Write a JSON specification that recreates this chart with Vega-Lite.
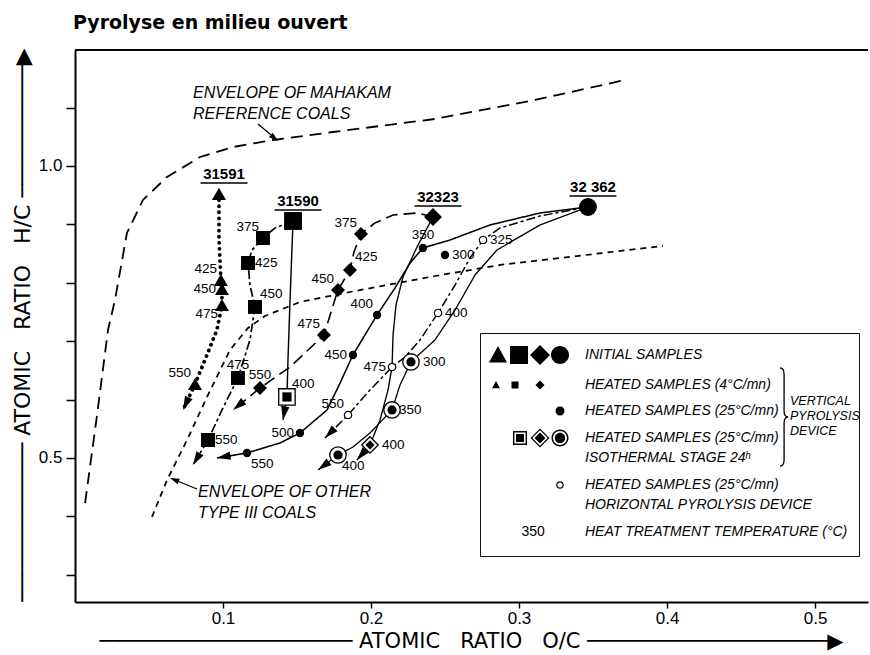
{
  "$schema": "https://vega.github.io/schema/vega-lite/v6.json",
  "width": 793,
  "height": 552,
  "autosize": {"type": "none"},
  "padding": {"left": 75, "top": 50, "right": 2, "bottom": 53},
  "background": "white",
  "title": {"text": "Pyrolyse en milieu ouvert", "anchor": "start", "frame": "group", "font": "DejaVu Sans", "fontSize": 19, "fontWeight": "bold", "color": "black", "offset": 0, "baseline": "alphabetic", "dx": -2},
  "config": {
    "view": {"stroke": null},
    "style": {"guide-label": {"lineHeight": 20}},
    "axis": {"domainColor": "black", "domainWidth": 2, "tickColor": "black", "tickWidth": 1.5, "labelColor": "black", "labelFont": "Liberation Sans", "labelFontSize": 17, "grid": false, "titleFont": "DejaVu Sans", "titleFontSize": 22, "titleFontWeight": "normal", "titleColor": "black"},
    "axisX": {"tickSize": 6, "labelPadding": 2},
    "axisY": {"tickSize": 9, "labelPadding": 4}
  },
  "datasets": {
    "pts": [
      {"sample": "31591", "kind": "initial", "T": null, "x": 0.0973, "y": 0.9521},
      {"sample": "31590", "kind": "initial", "T": null, "x": 0.1473, "y": 0.9058},
      {"sample": "32323", "kind": "initial", "T": null, "x": 0.2419, "y": 0.9127},
      {"sample": "32 362", "kind": "initial", "T": null, "x": 0.3466, "y": 0.9298},
      {"sample": "31591", "kind": "h4", "T": 425, "x": 0.0986, "y": 0.8048},
      {"sample": "31591", "kind": "h4", "T": 450, "x": 0.0993, "y": 0.7894},
      {"sample": "31591", "kind": "h4", "T": 475, "x": 0.0993, "y": 0.762},
      {"sample": "31591", "kind": "h4", "T": 550, "x": 0.0811, "y": 0.6267},
      {"sample": "31590", "kind": "h4", "T": 375, "x": 0.127, "y": 0.8767},
      {"sample": "31590", "kind": "h4", "T": 425, "x": 0.1169, "y": 0.8339},
      {"sample": "31590", "kind": "h4", "T": 450, "x": 0.1216, "y": 0.7586},
      {"sample": "31590", "kind": "h4", "T": 475, "x": 0.1101, "y": 0.637},
      {"sample": "31590", "kind": "h4", "T": 550, "x": 0.0899, "y": 0.5308},
      {"sample": "32323", "kind": "h4", "T": 375, "x": 0.1932, "y": 0.8836},
      {"sample": "32323", "kind": "h4", "T": 425, "x": 0.1858, "y": 0.8219},
      {"sample": "32323", "kind": "h4", "T": 450, "x": 0.1777, "y": 0.7877},
      {"sample": "32323", "kind": "h4", "T": 475, "x": 0.1682, "y": 0.7106},
      {"sample": "32323", "kind": "h4", "T": 550, "x": 0.125, "y": 0.6199},
      {"sample": "32 362", "kind": "h25", "T": 300, "x": 0.25, "y": 0.8476},
      {"sample": "32 362", "kind": "h25", "T": 350, "x": 0.2351, "y": 0.8596},
      {"sample": "32 362", "kind": "h25", "T": 400, "x": 0.2041, "y": 0.7449},
      {"sample": "32 362", "kind": "h25", "T": 450, "x": 0.1878, "y": 0.6764},
      {"sample": "32 362", "kind": "h25", "T": 500, "x": 0.152, "y": 0.5428},
      {"sample": "32 362", "kind": "h25", "T": 550, "x": 0.1162, "y": 0.5086},
      {"sample": "31590", "kind": "iso", "T": 400, "x": 0.1432, "y": 0.6045},
      {"sample": "32323", "kind": "iso", "T": 400, "x": 0.1993, "y": 0.5223},
      {"sample": "32 362", "kind": "iso", "T": 300, "x": 0.227, "y": 0.6644},
      {"sample": "32 362", "kind": "iso", "T": 350, "x": 0.2142, "y": 0.5822},
      {"sample": "32 362", "kind": "iso", "T": 400, "x": 0.1777, "y": 0.5051},
      {"sample": "32 362", "kind": "horiz", "T": 325, "x": 0.2757, "y": 0.8733},
      {"sample": "32 362", "kind": "horiz", "T": 400, "x": 0.2453, "y": 0.7483},
      {"sample": "32 362", "kind": "horiz", "T": 475, "x": 0.2142, "y": 0.6558},
      {"sample": "32 362", "kind": "horiz", "T": 550, "x": 0.1845, "y": 0.5736}
    ],
    "paths": [
      {"series": "env_mahakam", "o": 0, "x": 0.0068, "y": 0.4229},
      {"series": "env_mahakam", "o": 1, "x": 0.0149, "y": 0.5736},
      {"series": "env_mahakam", "o": 2, "x": 0.0223, "y": 0.7192},
      {"series": "env_mahakam", "o": 3, "x": 0.027, "y": 0.7705},
      {"series": "env_mahakam", "o": 4, "x": 0.0351, "y": 0.8853},
      {"series": "env_mahakam", "o": 5, "x": 0.0459, "y": 0.9418},
      {"series": "env_mahakam", "o": 6, "x": 0.0622, "y": 0.9812},
      {"series": "env_mahakam", "o": 7, "x": 0.0845, "y": 1.0154},
      {"series": "env_mahakam", "o": 8, "x": 0.1068, "y": 1.0325},
      {"series": "env_mahakam", "o": 9, "x": 0.1338, "y": 1.0445},
      {"series": "env_mahakam", "o": 10, "x": 0.1743, "y": 1.0582},
      {"series": "env_mahakam", "o": 11, "x": 0.2432, "y": 1.0805},
      {"series": "env_mahakam", "o": 12, "x": 0.3108, "y": 1.113},
      {"series": "env_mahakam", "o": 13, "x": 0.3716, "y": 1.1473},
      {"series": "env_other", "o": 0, "x": 0.052, "y": 0.399},
      {"series": "env_other", "o": 1, "x": 0.0622, "y": 0.4623},
      {"series": "env_other", "o": 2, "x": 0.0757, "y": 0.5308},
      {"series": "env_other", "o": 3, "x": 0.0892, "y": 0.6045},
      {"series": "env_other", "o": 4, "x": 0.1047, "y": 0.6849},
      {"series": "env_other", "o": 5, "x": 0.1169, "y": 0.7226},
      {"series": "env_other", "o": 6, "x": 0.1284, "y": 0.7432},
      {"series": "env_other", "o": 7, "x": 0.152, "y": 0.7671},
      {"series": "env_other", "o": 8, "x": 0.1858, "y": 0.7842},
      {"series": "env_other", "o": 9, "x": 0.2432, "y": 0.8116},
      {"series": "env_other", "o": 10, "x": 0.2872, "y": 0.8305},
      {"series": "env_other", "o": 11, "x": 0.3973, "y": 0.863},
      {"series": "31591_h4", "o": 0, "x": 0.0973, "y": 0.9521},
      {"series": "31591_h4", "o": 1, "x": 0.0973, "y": 0.8733},
      {"series": "31591_h4", "o": 2, "x": 0.0986, "y": 0.8048},
      {"series": "31591_h4", "o": 3, "x": 0.0993, "y": 0.7894},
      {"series": "31591_h4", "o": 4, "x": 0.0993, "y": 0.762},
      {"series": "31591_h4", "o": 5, "x": 0.0959, "y": 0.7192},
      {"series": "31591_h4", "o": 6, "x": 0.0878, "y": 0.6678},
      {"series": "31591_h4", "o": 7, "x": 0.0811, "y": 0.6267},
      {"series": "31591_h4", "o": 8, "x": 0.073, "y": 0.5822},
      {"series": "31590_h4", "o": 0, "x": 0.1473, "y": 0.9058},
      {"series": "31590_h4", "o": 1, "x": 0.1351, "y": 0.8938},
      {"series": "31590_h4", "o": 2, "x": 0.127, "y": 0.8767},
      {"series": "31590_h4", "o": 3, "x": 0.1196, "y": 0.8562},
      {"series": "31590_h4", "o": 4, "x": 0.1169, "y": 0.8339},
      {"series": "31590_h4", "o": 5, "x": 0.1182, "y": 0.7962},
      {"series": "31590_h4", "o": 6, "x": 0.1216, "y": 0.7586},
      {"series": "31590_h4", "o": 7, "x": 0.1182, "y": 0.7021},
      {"series": "31590_h4", "o": 8, "x": 0.1101, "y": 0.637},
      {"series": "31590_h4", "o": 9, "x": 0.0993, "y": 0.5822},
      {"series": "31590_h4", "o": 10, "x": 0.0899, "y": 0.5308},
      {"series": "31590_h4", "o": 11, "x": 0.0797, "y": 0.488},
      {"series": "31590_iso", "o": 0, "x": 0.1473, "y": 0.9058},
      {"series": "31590_iso", "o": 1, "x": 0.1453, "y": 0.7705},
      {"series": "31590_iso", "o": 2, "x": 0.1439, "y": 0.6678},
      {"series": "31590_iso", "o": 3, "x": 0.1432, "y": 0.6045},
      {"series": "31590_iso", "o": 4, "x": 0.1405, "y": 0.5651},
      {"series": "32323_h4", "o": 0, "x": 0.2419, "y": 0.9127},
      {"series": "32323_h4", "o": 1, "x": 0.2311, "y": 0.9195},
      {"series": "32323_h4", "o": 2, "x": 0.2149, "y": 0.9161},
      {"series": "32323_h4", "o": 3, "x": 0.2027, "y": 0.9024},
      {"series": "32323_h4", "o": 4, "x": 0.1932, "y": 0.8836},
      {"series": "32323_h4", "o": 5, "x": 0.1885, "y": 0.8527},
      {"series": "32323_h4", "o": 6, "x": 0.1858, "y": 0.8219},
      {"series": "32323_h4", "o": 7, "x": 0.1777, "y": 0.7877},
      {"series": "32323_h4", "o": 8, "x": 0.173, "y": 0.75},
      {"series": "32323_h4", "o": 9, "x": 0.1682, "y": 0.7106},
      {"series": "32323_h4", "o": 10, "x": 0.1453, "y": 0.6558},
      {"series": "32323_h4", "o": 11, "x": 0.125, "y": 0.6199},
      {"series": "32323_h4", "o": 12, "x": 0.1068, "y": 0.5822},
      {"series": "32323_iso", "o": 0, "x": 0.2419, "y": 0.9127},
      {"series": "32323_iso", "o": 1, "x": 0.2311, "y": 0.8613},
      {"series": "32323_iso", "o": 2, "x": 0.2216, "y": 0.8099},
      {"series": "32323_iso", "o": 3, "x": 0.2169, "y": 0.762},
      {"series": "32323_iso", "o": 4, "x": 0.2149, "y": 0.7106},
      {"series": "32323_iso", "o": 5, "x": 0.2142, "y": 0.6558},
      {"series": "32323_iso", "o": 6, "x": 0.2115, "y": 0.6164},
      {"series": "32323_iso", "o": 7, "x": 0.2061, "y": 0.5651},
      {"series": "32323_iso", "o": 8, "x": 0.1993, "y": 0.5223},
      {"series": "32323_iso", "o": 9, "x": 0.1905, "y": 0.4966},
      {"series": "32362_h25", "o": 0, "x": 0.3466, "y": 0.9298},
      {"series": "32362_h25", "o": 1, "x": 0.3142, "y": 0.9195},
      {"series": "32362_h25", "o": 2, "x": 0.2804, "y": 0.899},
      {"series": "32362_h25", "o": 3, "x": 0.2534, "y": 0.8733},
      {"series": "32362_h25", "o": 4, "x": 0.2351, "y": 0.8596},
      {"series": "32362_h25", "o": 5, "x": 0.2264, "y": 0.8339},
      {"series": "32362_h25", "o": 6, "x": 0.2162, "y": 0.7911},
      {"series": "32362_h25", "o": 7, "x": 0.2041, "y": 0.7449},
      {"series": "32362_h25", "o": 8, "x": 0.1959, "y": 0.7106},
      {"series": "32362_h25", "o": 9, "x": 0.1878, "y": 0.6764},
      {"series": "32362_h25", "o": 10, "x": 0.1791, "y": 0.6284},
      {"series": "32362_h25", "o": 11, "x": 0.1703, "y": 0.5822},
      {"series": "32362_h25", "o": 12, "x": 0.152, "y": 0.5428},
      {"series": "32362_h25", "o": 13, "x": 0.1385, "y": 0.5257},
      {"series": "32362_h25", "o": 14, "x": 0.1162, "y": 0.5086},
      {"series": "32362_h25", "o": 15, "x": 0.0959, "y": 0.5},
      {"series": "32362_horiz", "o": 0, "x": 0.3466, "y": 0.9298},
      {"series": "32362_horiz", "o": 1, "x": 0.3142, "y": 0.9144},
      {"series": "32362_horiz", "o": 2, "x": 0.2872, "y": 0.8938},
      {"series": "32362_horiz", "o": 3, "x": 0.2757, "y": 0.8733},
      {"series": "32362_horiz", "o": 4, "x": 0.2669, "y": 0.8425},
      {"series": "32362_horiz", "o": 5, "x": 0.2568, "y": 0.7962},
      {"series": "32362_horiz", "o": 6, "x": 0.2453, "y": 0.7483},
      {"series": "32362_horiz", "o": 7, "x": 0.2331, "y": 0.7021},
      {"series": "32362_horiz", "o": 8, "x": 0.223, "y": 0.6729},
      {"series": "32362_horiz", "o": 9, "x": 0.2142, "y": 0.6558},
      {"series": "32362_horiz", "o": 10, "x": 0.1993, "y": 0.6164},
      {"series": "32362_horiz", "o": 11, "x": 0.1845, "y": 0.5736},
      {"series": "32362_horiz", "o": 12, "x": 0.1689, "y": 0.5342},
      {"series": "32362_iso", "o": 0, "x": 0.3466, "y": 0.9298},
      {"series": "32362_iso", "o": 1, "x": 0.3142, "y": 0.899},
      {"series": "32362_iso", "o": 2, "x": 0.2851, "y": 0.8562},
      {"series": "32362_iso", "o": 3, "x": 0.2703, "y": 0.8134},
      {"series": "32362_iso", "o": 4, "x": 0.2568, "y": 0.7534},
      {"series": "32362_iso", "o": 5, "x": 0.2432, "y": 0.7021},
      {"series": "32362_iso", "o": 6, "x": 0.227, "y": 0.6644},
      {"series": "32362_iso", "o": 7, "x": 0.2196, "y": 0.625},
      {"series": "32362_iso", "o": 8, "x": 0.2142, "y": 0.5822},
      {"series": "32362_iso", "o": 9, "x": 0.1993, "y": 0.5428},
      {"series": "32362_iso", "o": 10, "x": 0.1878, "y": 0.5188},
      {"series": "32362_iso", "o": 11, "x": 0.1777, "y": 0.5051},
      {"series": "32362_iso", "o": 12, "x": 0.1642, "y": 0.4795}
    ],
    "legendItems": [{"entry": "initial"}, {"entry": "h4"}, {"entry": "h25"}, {"entry": "iso"}, {"entry": "horiz"}, {"entry": "temp"}]
  },
  "layer": [
    {
      "data": {"name": "paths"},
      "transform": [{"filter": "datum.series != '31591_h4'"}],
      "mark": {"type": "line", "color": "black", "strokeCap": "butt"},
      "encoding": {
        "x": {"field": "x", "type": "quantitative", "scale": {"domain": [0, 0.5358], "nice": false, "zero": false},
          "axis": {"values": [0.1, 0.2, 0.3, 0.4, 0.5], "format": ".1f", "title": "──────────────────── ATOMIC\u00a0\u00a0\u00a0RATIO\u00a0\u00a0\u00a0O/C ───────────────────▶", "titleX": 396, "titleY": 39, "titleFontSize": 21, "titleAlign": "center", "titleBaseline": "middle", "titleAngle": 0}},
        "y": {"field": "y", "type": "quantitative", "scale": {"domain": [0.2534, 1.1986], "nice": false, "zero": false},
          "axis": {"values": [0.3, 0.4, 0.5, 0.6, 0.7, 0.8, 0.9, 1.0, 1.1], "labelExpr": "datum.value == 0.5 || datum.value == 1 ? format(datum.value, '.1f') : ''", "title": "──────────── ATOMIC\u00a0\u00a0\u00a0RATIO\u00a0\u00a0\u00a0H/C ──────────▶", "titleX": -52.5, "titleY": 274.5, "titleAlign": "center", "titleBaseline": "middle", "titleAngle": -90}},
        "order": {"field": "o", "type": "quantitative"},
        "strokeDash": {"field": "series", "type": "nominal", "legend": null, "scale": {"domain": ["env_mahakam", "env_other", "31590_h4", "32323_h4", "32362_h25", "32362_horiz", "31590_iso", "32323_iso", "32362_iso"], "range": [[12, 7], [6, 5], [9, 3, 3, 3], [12, 6], [1, 0], [9, 3, 3, 3], [1, 0], [1, 0], [1, 0]]}},
        "strokeWidth": {"field": "series", "type": "nominal", "legend": null, "scale": {"domain": ["env_mahakam", "env_other", "31590_h4", "32323_h4", "32362_h25", "32362_horiz", "31590_iso", "32323_iso", "32362_iso"], "range": [1.8, 1.3, 4.5, 4.5, 4, 3.8, 1.4, 1.4, 1.4]}}
      }
    },
    {
      "data": {"name": "paths"},
      "transform": [{"filter": "datum.series == '31591_h4'"}],
      "mark": {"type": "line", "color": "black", "strokeCap": "round", "strokeDash": [0.1, 6], "strokeWidth": 3.8},
      "encoding": {
        "x": {"field": "x", "type": "quantitative", "scale": {"domain": [0, 0.5358], "nice": false, "zero": false}},
        "y": {"field": "y", "type": "quantitative", "scale": {"domain": [0.2534, 1.1986], "nice": false, "zero": false}},
        "order": {"field": "o", "type": "quantitative"}
      }
    },
    {
      "data": {"name": "paths"},
      "transform": [
        {"filter": "datum.series != 'env_mahakam' && datum.series != 'env_other'"},
        {"window": [{"op": "lag", "field": "x", "as": "px"}, {"op": "lag", "field": "y", "as": "py"}, {"op": "lead", "field": "x", "as": "nx"}], "groupby": ["series"], "sort": [{"field": "o", "order": "ascending"}]},
        {"filter": "datum.nx == null"},
        {"calculate": "atan2((datum.x - datum.px) * 1480, (datum.y - datum.py) * 584) * 180 / PI", "as": "ang"}
      ],
      "mark": {"type": "point", "shape": "M0,0L0.55,1.8L-0.55,1.8Z", "filled": true, "color": "black", "size": 230, "opacity": 1},
      "encoding": {
        "x": {"field": "x", "type": "quantitative", "scale": {"domain": [0, 0.5358], "nice": false, "zero": false}},
        "y": {"field": "y", "type": "quantitative", "scale": {"domain": [0.2534, 1.1986], "nice": false, "zero": false}},
        "angle": {"field": "ang", "type": "quantitative", "scale": null}
      }
    },
    {
      "data": {"name": "pts"},
      "transform": [{"filter": "datum.kind == 'initial' || datum.kind == 'h4' || datum.kind == 'h25'"}],
      "mark": {"type": "point", "filled": true, "color": "black", "opacity": 1},
      "encoding": {
        "x": {"field": "x", "type": "quantitative", "scale": {"domain": [0, 0.5358], "nice": false, "zero": false}},
        "y": {"field": "y", "type": "quantitative", "scale": {"domain": [0.2534, 1.1986], "nice": false, "zero": false}},
        "shape": {"field": "sample", "type": "nominal", "legend": null, "scale": {"domain": ["31591", "31590", "32323", "32 362"], "range": ["triangle-up", "square", "diamond", "circle"]}},
        "size": {"condition": {"test": "datum.kind == 'initial' && datum.sample == '31591'", "value": 200}, "field": "kind", "type": "nominal", "legend": null, "scale": {"domain": ["initial", "h4", "h25"], "range": [320, 70, 90]}}
      }
    },
    {
      "data": {"name": "pts"},
      "transform": [{"filter": "datum.kind == 'iso'"}],
      "mark": {"type": "point", "filled": true, "fill": "white", "stroke": "black", "strokeWidth": 1.3, "size": 270, "opacity": 1},
      "encoding": {
        "x": {"field": "x", "type": "quantitative", "scale": {"domain": [0, 0.5358], "nice": false, "zero": false}},
        "y": {"field": "y", "type": "quantitative", "scale": {"domain": [0.2534, 1.1986], "nice": false, "zero": false}},
        "shape": {"field": "sample", "type": "nominal", "legend": null, "scale": {"domain": ["31591", "31590", "32323", "32 362"], "range": ["triangle-up", "square", "diamond", "circle"]}}
      }
    },
    {
      "data": {"name": "pts"},
      "transform": [{"filter": "datum.kind == 'iso'"}],
      "mark": {"type": "point", "filled": true, "color": "black", "size": 85, "opacity": 1},
      "encoding": {
        "x": {"field": "x", "type": "quantitative", "scale": {"domain": [0, 0.5358], "nice": false, "zero": false}},
        "y": {"field": "y", "type": "quantitative", "scale": {"domain": [0.2534, 1.1986], "nice": false, "zero": false}},
        "shape": {"field": "sample", "type": "nominal", "legend": null, "scale": {"domain": ["31591", "31590", "32323", "32 362"], "range": ["triangle-up", "square", "diamond", "circle"]}}
      }
    },
    {
      "data": {"name": "pts"},
      "transform": [{"filter": "datum.kind == 'horiz'"}],
      "mark": {"type": "point", "shape": "circle", "filled": true, "fill": "white", "stroke": "black", "strokeWidth": 1.2, "size": 55, "opacity": 1},
      "encoding": {
        "x": {"field": "x", "type": "quantitative", "scale": {"domain": [0, 0.5358], "nice": false, "zero": false}},
        "y": {"field": "y", "type": "quantitative", "scale": {"domain": [0.2534, 1.1986], "nice": false, "zero": false}}
      }
    },
    {
      "data": {"name": "pts"},
      "transform": [{"filter": "datum.kind == 'initial'"}],
      "mark": {"type": "text", "align": "center", "baseline": "middle", "dx": 5, "dy": -20, "font": "Liberation Sans", "fontSize": 15, "fontWeight": "bold", "color": "black"},
      "encoding": {
        "x": {"field": "x", "type": "quantitative", "scale": {"domain": [0, 0.5358], "nice": false, "zero": false}},
        "y": {"field": "y", "type": "quantitative", "scale": {"domain": [0.2534, 1.1986], "nice": false, "zero": false}},
        "text": {"field": "sample", "type": "nominal"}
      }
    },
    {
      "data": {"name": "pts"},
      "transform": [{"filter": "datum.kind == 'initial'"}],
      "mark": {"type": "point", "shape": "M-1,0L1,0", "filled": false, "stroke": "black", "strokeWidth": 1.4, "size": 2200, "xOffset": 5, "yOffset": -11, "opacity": 1},
      "encoding": {
        "x": {"field": "x", "type": "quantitative", "scale": {"domain": [0, 0.5358], "nice": false, "zero": false}},
        "y": {"field": "y", "type": "quantitative", "scale": {"domain": [0.2534, 1.1986], "nice": false, "zero": false}}
      }
    },
    {
      "data": {"name": "pts"},
      "transform": [{"filter": "indexof(['31591|h4|450','32 362|h25|450','32 362|h25|500','32 362|horiz|475'], datum.sample + '|' + datum.kind + '|' + datum.T) >= 0"}],
      "mark": {"type": "text", "align": "right", "baseline": "middle", "dx": -6, "dy": 0, "font": "Liberation Sans", "fontSize": 13.5, "color": "black"},
      "encoding": {
        "x": {"field": "x", "type": "quantitative", "scale": {"domain": [0, 0.5358], "nice": false, "zero": false}},
        "y": {"field": "y", "type": "quantitative", "scale": {"domain": [0.2534, 1.1986], "nice": false, "zero": false}},
        "text": {"field": "T", "type": "nominal"}
      }
    },
    {
      "data": {"name": "pts"},
      "transform": [{"filter": "indexof(['31591|h4|475'], datum.sample + '|' + datum.kind + '|' + datum.T) >= 0"}],
      "mark": {"type": "text", "align": "right", "baseline": "middle", "dx": -4, "dy": 9, "font": "Liberation Sans", "fontSize": 13.5, "color": "black"},
      "encoding": {
        "x": {"field": "x", "type": "quantitative", "scale": {"domain": [0, 0.5358], "nice": false, "zero": false}},
        "y": {"field": "y", "type": "quantitative", "scale": {"domain": [0.2534, 1.1986], "nice": false, "zero": false}},
        "text": {"field": "T", "type": "nominal"}
      }
    },
    {
      "data": {"name": "pts"},
      "transform": [{"filter": "indexof(['31591|h4|425','31591|h4|550','31590|h4|375','32323|h4|375','32323|h4|450','32323|h4|475','32 362|h25|400','32 362|horiz|550'], datum.sample + '|' + datum.kind + '|' + datum.T) >= 0"}],
      "mark": {"type": "text", "align": "right", "baseline": "middle", "dx": -4, "dy": -11, "font": "Liberation Sans", "fontSize": 13.5, "color": "black"},
      "encoding": {
        "x": {"field": "x", "type": "quantitative", "scale": {"domain": [0, 0.5358], "nice": false, "zero": false}},
        "y": {"field": "y", "type": "quantitative", "scale": {"domain": [0.2534, 1.1986], "nice": false, "zero": false}},
        "text": {"field": "T", "type": "nominal"}
      }
    },
    {
      "data": {"name": "pts"},
      "transform": [{"filter": "indexof(['31590|h4|425','31590|h4|550','32 362|h25|300','32 362|iso|350','32 362|horiz|325','32 362|horiz|400'], datum.sample + '|' + datum.kind + '|' + datum.T) >= 0"}],
      "mark": {"type": "text", "align": "left", "baseline": "middle", "dx": 7, "dy": 0, "font": "Liberation Sans", "fontSize": 13.5, "color": "black"},
      "encoding": {
        "x": {"field": "x", "type": "quantitative", "scale": {"domain": [0, 0.5358], "nice": false, "zero": false}},
        "y": {"field": "y", "type": "quantitative", "scale": {"domain": [0.2534, 1.1986], "nice": false, "zero": false}},
        "text": {"field": "T", "type": "nominal"}
      }
    },
    {
      "data": {"name": "pts"},
      "transform": [{"filter": "indexof(['32323|iso|400','32 362|iso|300'], datum.sample + '|' + datum.kind + '|' + datum.T) >= 0"}],
      "mark": {"type": "text", "align": "left", "baseline": "middle", "dx": 12, "dy": 0, "font": "Liberation Sans", "fontSize": 13.5, "color": "black"},
      "encoding": {
        "x": {"field": "x", "type": "quantitative", "scale": {"domain": [0, 0.5358], "nice": false, "zero": false}},
        "y": {"field": "y", "type": "quantitative", "scale": {"domain": [0.2534, 1.1986], "nice": false, "zero": false}},
        "text": {"field": "T", "type": "nominal"}
      }
    },
    {
      "data": {"name": "pts"},
      "transform": [{"filter": "indexof(['31590|h4|450','32323|h4|425','31590|iso|400'], datum.sample + '|' + datum.kind + '|' + datum.T) >= 0"}],
      "mark": {"type": "text", "align": "left", "baseline": "middle", "dx": 5, "dy": -13, "font": "Liberation Sans", "fontSize": 13.5, "color": "black"},
      "encoding": {
        "x": {"field": "x", "type": "quantitative", "scale": {"domain": [0, 0.5358], "nice": false, "zero": false}},
        "y": {"field": "y", "type": "quantitative", "scale": {"domain": [0.2534, 1.1986], "nice": false, "zero": false}},
        "text": {"field": "T", "type": "nominal"}
      }
    },
    {
      "data": {"name": "pts"},
      "transform": [{"filter": "indexof(['31590|h4|475','32323|h4|550','32 362|h25|350'], datum.sample + '|' + datum.kind + '|' + datum.T) >= 0"}],
      "mark": {"type": "text", "align": "center", "baseline": "middle", "dx": 0, "dy": -13, "font": "Liberation Sans", "fontSize": 13.5, "color": "black"},
      "encoding": {
        "x": {"field": "x", "type": "quantitative", "scale": {"domain": [0, 0.5358], "nice": false, "zero": false}},
        "y": {"field": "y", "type": "quantitative", "scale": {"domain": [0.2534, 1.1986], "nice": false, "zero": false}},
        "text": {"field": "T", "type": "nominal"}
      }
    },
    {
      "data": {"name": "pts"},
      "transform": [{"filter": "indexof(['32 362|h25|550','32 362|iso|400'], datum.sample + '|' + datum.kind + '|' + datum.T) >= 0"}],
      "mark": {"type": "text", "align": "left", "baseline": "middle", "dx": 4, "dy": 11, "font": "Liberation Sans", "fontSize": 13.5, "color": "black"},
      "encoding": {
        "x": {"field": "x", "type": "quantitative", "scale": {"domain": [0, 0.5358], "nice": false, "zero": false}},
        "y": {"field": "y", "type": "quantitative", "scale": {"domain": [0.2534, 1.1986], "nice": false, "zero": false}},
        "text": {"field": "T", "type": "nominal"}
      }
    },
    {
      "data": {"values": [{}]},
      "mark": {"type": "text", "align": "left", "baseline": "alphabetic", "font": "Liberation Sans", "fontStyle": "italic", "fontSize": 16, "lineHeight": 21, "color": "black", "text": ["ENVELOPE OF MAHAKAM", "REFERENCE COALS"]},
      "encoding": {
        "x": {"datum": 0.0797, "type": "quantitative", "scale": {"domain": [0, 0.5358], "nice": false, "zero": false}},
        "y": {"datum": 1.1164, "type": "quantitative", "scale": {"domain": [0.2534, 1.1986], "nice": false, "zero": false}}
      }
    },
    {
      "data": {"values": [{}]},
      "mark": {"type": "rule", "color": "black", "strokeWidth": 1.3},
      "encoding": {
        "x": {"datum": 0.1236, "type": "quantitative", "scale": {"domain": [0, 0.5358], "nice": false, "zero": false}},
        "y": {"datum": 1.0719, "type": "quantitative", "scale": {"domain": [0.2534, 1.1986], "nice": false, "zero": false}},
        "x2": {"datum": 0.1358},
        "y2": {"datum": 1.0462}
      }
    },
    {
      "data": {"values": [{}]},
      "mark": {"type": "point", "shape": "M0,0L0.55,1.8L-0.55,1.8Z", "filled": true, "color": "black", "size": 110, "angle": 130, "opacity": 1},
      "encoding": {
        "x": {"datum": 0.1372, "type": "quantitative", "scale": {"domain": [0, 0.5358], "nice": false, "zero": false}},
        "y": {"datum": 1.0428, "type": "quantitative", "scale": {"domain": [0.2534, 1.1986], "nice": false, "zero": false}}
      }
    },
    {
      "data": {"values": [{}]},
      "mark": {"type": "text", "align": "left", "baseline": "alphabetic", "font": "Liberation Sans", "fontStyle": "italic", "fontSize": 16, "lineHeight": 21, "color": "black", "text": ["ENVELOPE OF OTHER", "TYPE III COALS"]},
      "encoding": {
        "x": {"datum": 0.0831, "type": "quantitative", "scale": {"domain": [0, 0.5358], "nice": false, "zero": false}},
        "y": {"datum": 0.4332, "type": "quantitative", "scale": {"domain": [0.2534, 1.1986], "nice": false, "zero": false}}
      }
    },
    {
      "data": {"values": [{}]},
      "mark": {"type": "rule", "color": "black", "strokeWidth": 1.3},
      "encoding": {
        "x": {"datum": 0.0824, "type": "quantitative", "scale": {"domain": [0, 0.5358], "nice": false, "zero": false}},
        "y": {"datum": 0.4469, "type": "quantitative", "scale": {"domain": [0.2534, 1.1986], "nice": false, "zero": false}},
        "x2": {"datum": 0.0676},
        "y2": {"datum": 0.4623}
      }
    },
    {
      "data": {"values": [{}]},
      "mark": {"type": "point", "shape": "M0,0L0.55,1.8L-0.55,1.8Z", "filled": true, "color": "black", "size": 110, "angle": 292, "opacity": 1},
      "encoding": {
        "x": {"datum": 0.0642, "type": "quantitative", "scale": {"domain": [0, 0.5358], "nice": false, "zero": false}},
        "y": {"datum": 0.4658, "type": "quantitative", "scale": {"domain": [0.2534, 1.1986], "nice": false, "zero": false}}
      }
    },
    {
      "data": {"values": [{}]},
      "mark": {"type": "text", "align": "center", "baseline": "middle", "font": "Liberation Sans", "fontSize": 14, "color": "black", "text": "350"},
      "encoding": {
        "x": {"datum": 0.3095, "type": "quantitative", "scale": {"domain": [0, 0.5358], "nice": false, "zero": false}},
        "y": {"datum": 0.3733, "type": "quantitative", "scale": {"domain": [0.2534, 1.1986], "nice": false, "zero": false}}
      }
    },
    {
      "data": {"values": [{}]},
      "mark": {"type": "point", "shape": "M0,-0.98Q0.08,-0.98,0.08,-0.85L0.08,-0.12Q0.08,0,0.16,0Q0.08,0,0.08,0.12L0.08,0.85Q0.08,0.98,0,0.98", "filled": false, "stroke": "black", "strokeWidth": 1.3, "size": 10000, "opacity": 1},
      "encoding": {
        "x": {"datum": 0.4764, "type": "quantitative", "scale": {"domain": [0, 0.5358], "nice": false, "zero": false}},
        "y": {"datum": 0.5702, "type": "quantitative", "scale": {"domain": [0.2534, 1.1986], "nice": false, "zero": false}}
      }
    },
    {
      "data": {"values": [{}]},
      "mark": {"type": "text", "align": "left", "baseline": "top", "font": "Liberation Sans", "fontStyle": "italic", "fontSize": 12.5, "lineHeight": 15, "color": "black", "text": ["VERTICAL", "PYROLYSIS", "DEVICE"]},
      "encoding": {
        "x": {"datum": 0.4831, "type": "quantitative", "scale": {"domain": [0, 0.5358], "nice": false, "zero": false}},
        "y": {"datum": 0.6079, "type": "quantitative", "scale": {"domain": [0.2534, 1.1986], "nice": false, "zero": false}}
      }
    },
    {
      "data": {"values": [{}]},
      "mark": {"type": "rule", "color": "black", "strokeWidth": 2},
      "encoding": {
        "x": {"datum": 0, "type": "quantitative", "scale": {"domain": [0, 0.5358], "nice": false, "zero": false}},
        "x2": {"datum": 0.5358},
        "y": {"datum": 1.1986, "type": "quantitative", "scale": {"domain": [0.2534, 1.1986], "nice": false, "zero": false}}
      }
    },
    {
      "data": {"name": "legendItems"},
      "mark": {"type": "point", "filled": true, "color": "black", "size": 400, "opacity": 0},
      "encoding": {
        "shape": {"field": "entry", "type": "nominal",
          "scale": {"domain": ["initial", "h4", "h25", "iso", "horiz", "temp"],
            "range": [
              "M-7.2,-1M1,1.4M-6.2,-0.9L-5.3,0.75L-7.1,0.75ZM-5,-0.9H-3.2V0.9H-5ZM-2,-1L-1,0L-2,1L-3,0ZM0.9,0A0.9,0.9,0,1,1,-0.9,0A0.9,0.9,0,1,1,0.9,0Z",
              "M-7.2,-1M1,1M-6.4,-0.4L-6,0.32L-6.8,0.32ZM-4.85,-0.35H-4.15V0.35H-4.85ZM-2,-0.45L-1.55,0L-2,0.45L-2.45,0Z",
              "M-7.2,-1M1,1.1M0.45,0A0.45,0.45,0,1,1,-0.45,0A0.45,0.45,0,1,1,0.45,0Z",
              "M-7.2,-1M1,3.1M-4.7,-0.7H-3.3V0.7H-4.7ZM-4.56,-0.56V0.56H-3.44V-0.56ZM-4.4,-0.4H-3.6V0.4H-4.4ZM-2,-0.95L-1.05,0L-2,0.95L-2.95,0ZM-2,-0.78L-2.78,0L-2,0.78L-1.22,0ZM-2,-0.55L-1.45,0L-2,0.55L-2.55,0ZM0.85,0A0.85,0.85,0,1,1,-0.85,0A0.85,0.85,0,1,1,0.85,0ZM0.7,0A0.7,0.7,0,1,0,-0.7,0A0.7,0.7,0,1,0,0.7,0ZM0.52,0A0.52,0.52,0,1,1,-0.52,0A0.52,0.52,0,1,1,0.52,0Z",
              "M-7.2,-1M1,3.1M0.38,0A0.38,0.38,0,1,1,-0.38,0A0.38,0.38,0,1,1,0.38,0ZM0.26,0A0.26,0.26,0,1,0,-0.26,0A0.26,0.26,0,1,0,0.26,0Z",
              "M-7.2,-1M1,1"
            ]},
          "legend": {
            "title": null, "orient": "none", "legendX": 405, "legendY": 283, "direction": "vertical",
            "symbolSize": 400, "symbolOffset": 58, "labelOffset": 14, "symbolOpacity": 1,
            "labelFont": "Liberation Sans", "labelFontSize": 14, "labelFontStyle": "italic", "labelColor": "black", "labelBaseline": "middle", "labelLimit": 0,
            "labelExpr": "datum.value == 'initial' ? 'INITIAL SAMPLES' : datum.value == 'h4' ? 'HEATED SAMPLES (4°C/mn)' : datum.value == 'h25' ? 'HEATED SAMPLES (25°C/mn)' : datum.value == 'iso' ? ['HEATED SAMPLES (25°C/mn)', 'ISOTHERMAL STAGE 24ʰ'] : datum.value == 'horiz' ? ['HEATED SAMPLES (25°C/mn)', 'HORIZONTAL PYROLYSIS DEVICE'] : 'HEAT TREATMENT TEMPERATURE (°C)'",
            "rowPadding": 0, "padding": 11, "strokeColor": "#111111",
            "encode": {
              "symbols": {"update": {"fill": {"value": "black"}, "stroke": {"value": "black"}, "strokeWidth": {"value": 0}, "opacity": {"value": 1}}},
              "legend": {"update": {"strokeWidth": {"value": 1.5}}}
            }
          }
        }
      }
    }
  ],
  "resolve": {"scale": {"shape": "independent"}}
}
